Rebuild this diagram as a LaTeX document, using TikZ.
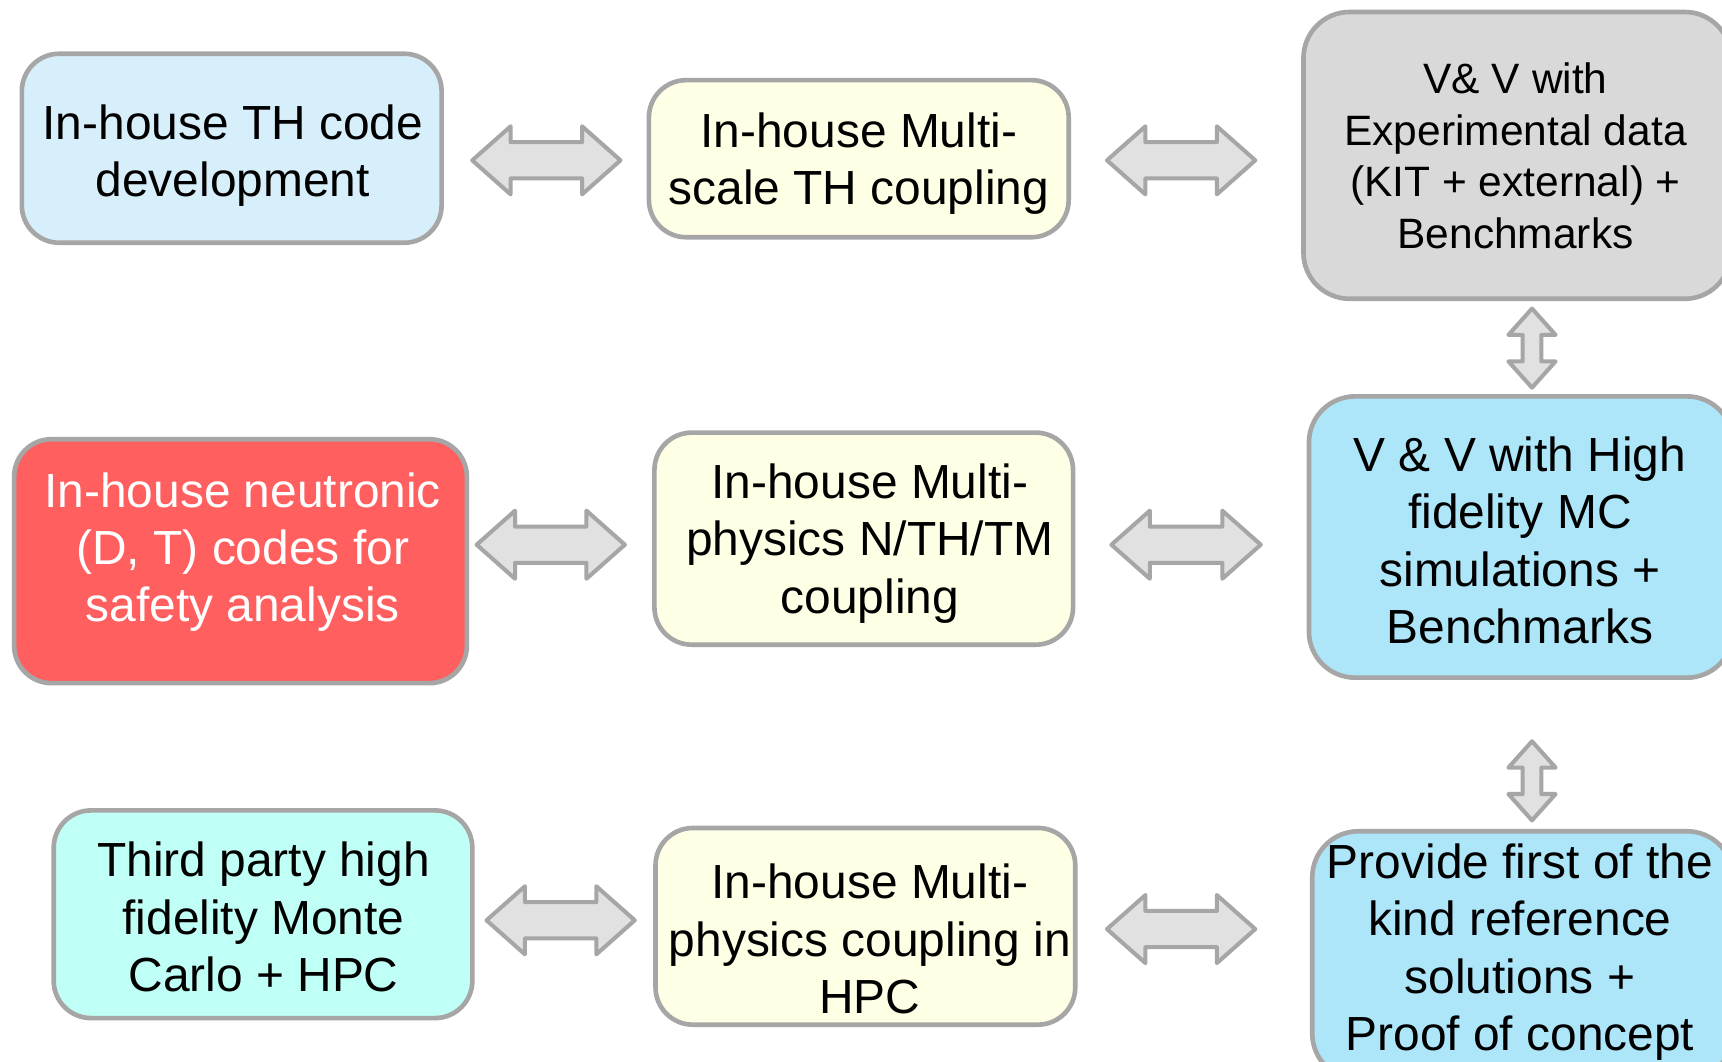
\documentclass[tikz,border=0pt]{standalone}
\usepackage{fontspec}
\setmainfont{Liberation Sans}
\usetikzlibrary{calc}
\definecolor{bordergray}{RGB}{166,166,166}
\definecolor{arrowfill}{RGB}{225,225,225}
\definecolor{boxblue}{RGB}{215,238,251}
\definecolor{boxyellow}{RGB}{255,255,229}
\definecolor{boxgray}{RGB}{217,217,217}
\definecolor{boxred}{RGB}{255,95,95}
\definecolor{boxsky}{RGB}{173,229,249}
\definecolor{boxcyan}{RGB}{191,255,245}
\tikzset{
  box/.style={draw=bordergray, line width=1.2pt, rounded corners=3.4mm, inner sep=0pt},
  bigbox/.style={box, rounded corners=4.2mm},
  txt/.style={align=center, inner sep=0pt, font=\fontsize{12.4}{14.8}\selectfont},
  smalltxt/.style={align=center, inner sep=0pt, font=\fontsize{11}{13.4}\selectfont},
  blockarrow/.style={draw=bordergray, fill=arrowfill, line width=1.05pt, line join=round}
}
\newcommand{\hbiarrow}[2]{%
  \draw[blockarrow] (#1) -- ($(#1)+(35,-31)$) -- ($(#1)+(35,-16.5)$) -- ($(#2)+(-35,-16.5)$)
    -- ($(#2)+(-35,-31)$) -- (#2) -- ($(#2)+(-35,31)$) -- ($(#2)+(-35,16.5)$)
    -- ($(#1)+(35,16.5)$) -- ($(#1)+(35,31)$) -- cycle;}
\newcommand{\vbiarrow}[2]{%
  \draw[blockarrow] (#1) -- ($(#1)+(-21.5,24)$) -- ($(#1)+(-8.5,24)$) -- ($(#2)+(-8.5,-24)$)
    -- ($(#2)+(-21.5,-24)$) -- (#2) -- ($(#2)+(21.5,-24)$) -- ($(#2)+(8.5,-24)$)
    -- ($(#1)+(8.5,24)$) -- ($(#1)+(21.5,24)$) -- cycle;}
\begin{document}
\begin{tikzpicture}[x=0.01cm, y=-0.01cm]
\useasboundingbox (0,0) rectangle (1568,967);
\clip (0,0) rectangle (1568,967);
\fill[white] (0,0) rectangle (1568,967);
% boxes
\node[box, fill=boxblue, minimum width=3.82cm, minimum height=1.72cm] (A) at (211,135) {};
\node[box, fill=boxyellow, minimum width=3.82cm, minimum height=1.43cm] (B) at (782,144.5) {};
\node[bigbox, fill=boxgray, minimum width=3.89cm, minimum height=2.61cm] (C) at (1381.5,141.5) {};
\node[box, fill=boxred, minimum width=4.12cm, minimum height=2.22cm] (D) at (219,511) {};
\node[box, fill=boxyellow, minimum width=3.81cm, minimum height=1.93cm] (E) at (786.5,490.5) {};
\node[bigbox, fill=boxsky, minimum width=3.86cm, minimum height=2.56cm] (F) at (1385,489) {};
\node[box, fill=boxcyan, minimum width=3.81cm, minimum height=1.89cm] (G) at (239.5,832.5) {};
\node[box, fill=boxyellow, minimum width=3.82cm, minimum height=1.79cm] (H) at (788,843.5) {};
\node[bigbox, fill=boxsky, minimum width=3.83cm, minimum height=2.26cm] (I) at (1386.5,870) {};
% texts
\node[txt] (tA) at (212,142) {In-house TH code\\development};
\node[txt] (tB) at (782,149) {In-house Multi-\\scale TH coupling};
\node[smalltxt] (tC) at (1380,142) {V\&\ V with\\Experimental data\\(KIT + external) +\\Benchmarks};
\node[txt, text=white] (tD) at (221,503) {In-house neutronic\\(D, T) codes for\\safety analysis};
\node[txt] (tE) at (792,495) {In-house Multi-\\physics N/TH/TM\\coupling};
\node[txt] (tF) at (1384,492) {V \& V with High\\fidelity MC\\simulations +\\Benchmarks};
\node[txt] (tG) at (240,835) {Third party high\\fidelity Monte\\Carlo + HPC};
\node[txt] (tH) at (792,855) {In-house Multi-\\physics coupling in\\HPC};
\node[txt] (tI) at (1384,867) {Provide first of the\\kind reference\\solutions +\\Proof of concept};
% arrow ends
\coordinate (a1s) at (430,146); \coordinate (a1e) at (565,146);
\coordinate (a2s) at (1008,146); \coordinate (a2e) at (1143,146);
\coordinate (a3s) at (434,496); \coordinate (a3e) at (569,496);
\coordinate (a4s) at (1012,496); \coordinate (a4e) at (1148,496);
\coordinate (a5s) at (443,838); \coordinate (a5e) at (578,838);
\coordinate (a6s) at (1008,846); \coordinate (a6e) at (1143,846);
\coordinate (v1s) at (1395,281); \coordinate (v1e) at (1395,353);
\coordinate (v2s) at (1395,675); \coordinate (v2e) at (1395,747);
\hbiarrow{a1s}{a1e}
\hbiarrow{a2s}{a2e}
\hbiarrow{a3s}{a3e}
\hbiarrow{a4s}{a4e}
\hbiarrow{a5s}{a5e}
\hbiarrow{a6s}{a6e}
\vbiarrow{v1s}{v1e}
\vbiarrow{v2s}{v2e}
\end{tikzpicture}
\end{document}
